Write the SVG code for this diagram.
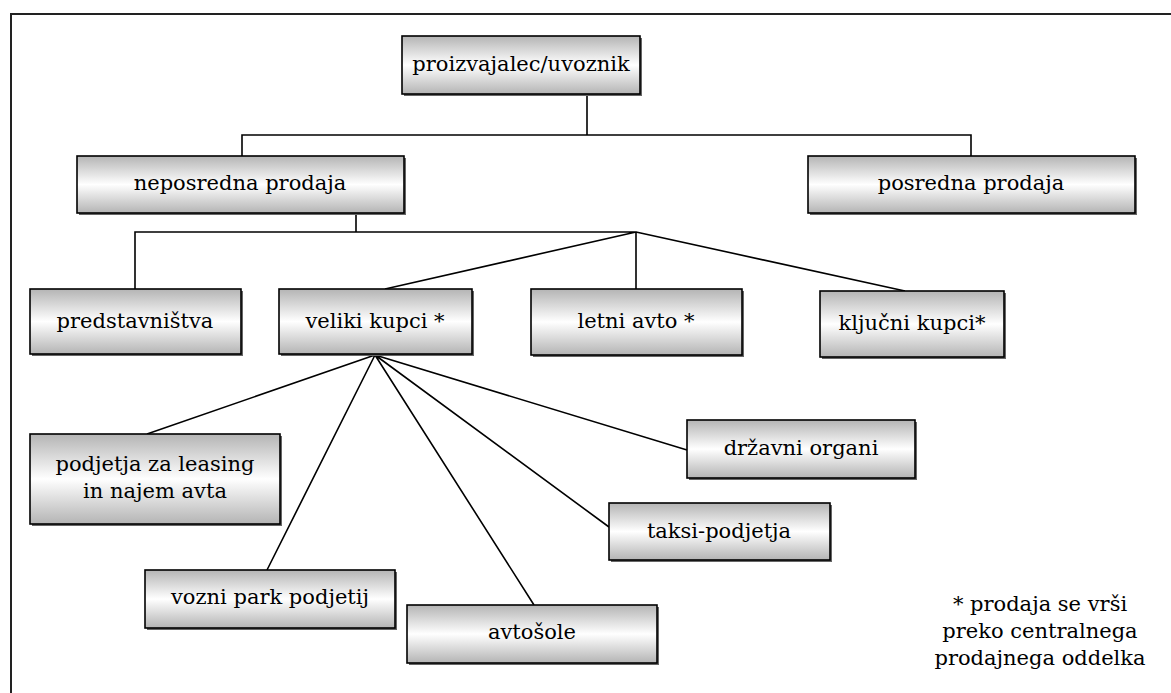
<svg xmlns="http://www.w3.org/2000/svg" width="1171" height="693" viewBox="0 0 1171 693">
<defs>
<linearGradient id="g" x1="0" y1="0" x2="0" y2="1">
<stop offset="0" stop-color="#b4b4b4"/>
<stop offset="0.5" stop-color="#ffffff"/>
<stop offset="1" stop-color="#b4b4b4"/>
</linearGradient>
</defs>
<style>
.box{fill:url(#g);stroke:#000;stroke-width:1.6}
.sh{fill:#666}
.c{fill:none;stroke:#000;stroke-width:1.6}
.frame{fill:none;stroke:#222;stroke-width:2}
</style>
<rect width="1171" height="693" fill="#fff"/>
<path class="frame" d="M11,693 V14 H1171"/>
<g id="connectors">
<path class="c" d="M587,95 V135 M242,156 V135 H971 V156"/>
<path class="c" d="M356,213 V232 M135,289 V232 H636 V289 M636,232 L385,289 M636,232 L905,291"/>
<path class="c" d="M375,355 L147,434 M375,355 L267,570 M375,355 L534,605 M375,355 L609,527 M375,355 L687,450"/>
</g>
<g font-family="'DejaVu Serif', 'Liberation Serif', serif" font-size="21" fill="#000" text-anchor="middle">
<g id="n-proizvajalec">
<rect class="sh" x="404" y="38" width="238" height="58"/>
<rect class="box" x="402" y="36" width="238" height="58"/>
<text x="521" y="71">proizvajalec/uvoznik</text>
</g>
<g id="n-neposredna">
<rect class="sh" x="79" y="158" width="327" height="57"/>
<rect class="box" x="77" y="156" width="327" height="57"/>
<text x="240" y="190">neposredna prodaja</text>
</g>
<g id="n-posredna">
<rect class="sh" x="810" y="158" width="327" height="57"/>
<rect class="box" x="808" y="156" width="327" height="57"/>
<text x="971" y="190">posredna prodaja</text>
</g>
<g id="n-predstavnistva">
<rect class="sh" x="32" y="291" width="211" height="65"/>
<rect class="box" x="30" y="289" width="211" height="65"/>
<text x="135" y="328">predstavništva</text>
</g>
<g id="n-veliki">
<rect class="sh" x="281" y="291" width="193" height="65"/>
<rect class="box" x="279" y="289" width="193" height="65"/>
<text x="375" y="328">veliki kupci *</text>
</g>
<g id="n-letni">
<rect class="sh" x="533" y="291" width="211" height="66"/>
<rect class="box" x="531" y="289" width="211" height="66"/>
<text x="636" y="328">letni avto *</text>
</g>
<g id="n-kljucni">
<rect class="sh" x="822" y="293" width="184" height="66"/>
<rect class="box" x="820" y="291" width="184" height="66"/>
<text x="912" y="330">ključni kupci*</text>
</g>
<g id="n-leasing">
<rect class="sh" x="32" y="436" width="250" height="90"/>
<rect class="box" x="30" y="434" width="250" height="90"/>
<text x="155" y="471">podjetja za leasing</text>
<text x="155" y="498">in najem avta</text>
</g>
<g id="n-vozni">
<rect class="sh" x="147" y="572" width="250" height="58"/>
<rect class="box" x="145" y="570" width="250" height="58"/>
<text x="270" y="604">vozni park podjetij</text>
</g>
<g id="n-avtosole">
<rect class="sh" x="409" y="607" width="250" height="58"/>
<rect class="box" x="407" y="605" width="250" height="58"/>
<text x="532" y="639">avtošole</text>
</g>
<g id="n-taksi">
<rect class="sh" x="611" y="505" width="221" height="57"/>
<rect class="box" x="609" y="503" width="221" height="57"/>
<text x="719" y="538">taksi-podjetja</text>
</g>
<g id="n-drzavni">
<rect class="sh" x="689" y="422" width="228" height="58"/>
<rect class="box" x="687" y="420" width="228" height="58"/>
<text x="801" y="455">državni organi</text>
</g>
<g id="footnote">
<text x="1040" y="611">* prodaja se vrši</text>
<text x="1040" y="638">preko centralnega</text>
<text x="1040" y="665">prodajnega oddelka</text>
</g>
</g>
</svg>
